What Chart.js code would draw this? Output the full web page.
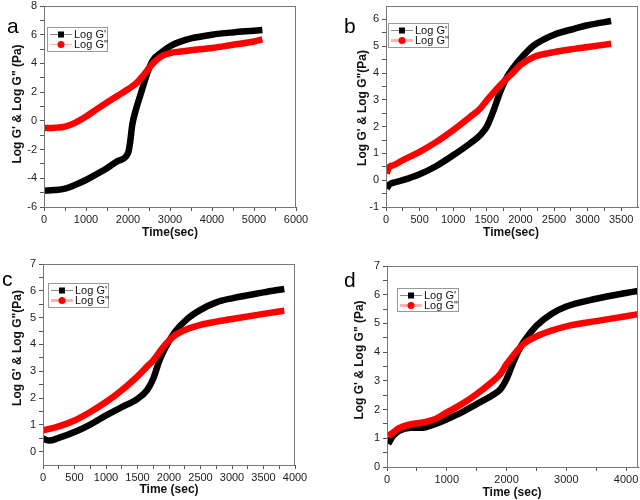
<!DOCTYPE html>
<html>
<head>
<meta charset="utf-8">
<script src="https://cdn.jsdelivr.net/npm/chart.js@4.4.0/dist/chart.umd.min.js"></script>
<style>
  body { margin: 0; background: #fff; }
  #wrap { position: relative; width: 640px; height: 500px; }
  canvas { position: absolute; }
</style>
</head>
<body>
<div id="wrap">
  <canvas id="chartA" width="320" height="250" style="left:0;top:0"></canvas>
  <canvas id="chartB" width="320" height="250" style="left:320px;top:0"></canvas>
  <canvas id="chartC" width="320" height="250" style="left:0;top:250px"></canvas>
  <canvas id="chartD" width="320" height="250" style="left:320px;top:250px"></canvas>
</div>
<script>
/* panel a */
const timeA = [0, 250, 500, 750, 1000, 1250, 1500, 1750, 2000, 2050, 2100, 2200, 2300, 2400, 2500, 2600, 2800, 3000, 3250, 3500, 4000, 4500, 5000, 5200];
const gPrimeA = [-4.86, -4.82, -4.72, -4.45, -4.12, -3.72, -3.3, -2.8, -2.25, -1.5, -0.3, 0.9, 1.85, 2.8, 3.65, 4.25, 4.78, 5.2, 5.52, 5.74, 6.0, 6.16, 6.28, 6.33];
const gDoubleA = [-0.5, -0.48, -0.4, -0.12, 0.3, 0.8, 1.28, 1.74, 2.2, 2.3, 2.4, 2.63, 2.95, 3.3, 3.68, 4.02, 4.5, 4.72, 4.83, 4.92, 5.07, 5.3, 5.53, 5.67];
const xTicksA = [0, 1000, 2000, 3000, 4000, 5000, 6000];
const yTicksA = [-6, -4, -2, 0, 2, 4, 6, 8];

/* panel b */
const timeB = [10, 50, 100, 250, 500, 750, 1000, 1250, 1400, 1500, 1600, 1700, 1800, 1900, 2000, 2200, 2500, 2800, 3000, 3350];
const gPrimeB = [-0.31, -0.16, -0.1, 0.0, 0.22, 0.53, 0.93, 1.37, 1.68, 2.0, 2.6, 3.3, 3.85, 4.22, 4.53, 5.03, 5.43, 5.65, 5.78, 5.94];
const gDoubleB = [0.25, 0.5, 0.55, 0.75, 1.06, 1.43, 1.87, 2.36, 2.67, 2.98, 3.27, 3.54, 3.8, 4.04, 4.3, 4.6, 4.78, 4.9, 4.97, 5.09];
const xTicksB = [0, 500, 1000, 1500, 2000, 2500, 3000, 3500];
const yTicksB = [-1, 0, 1, 2, 3, 4, 5, 6];

/* panel c */
const timeC = [0, 100, 250, 500, 750, 1000, 1250, 1500, 1650, 1750, 1850, 1950, 2100, 2300, 2500, 2750, 3000, 3500, 3830];
const gPrimeC = [0.48, 0.41, 0.51, 0.73, 1.01, 1.35, 1.66, 1.97, 2.29, 2.72, 3.41, 3.91, 4.48, 4.97, 5.29, 5.57, 5.72, 5.94, 6.07];
const gDoubleC = [0.79, 0.85, 0.94, 1.16, 1.48, 1.85, 2.29, 2.81, 3.17, 3.4, 3.72, 4.02, 4.35, 4.58, 4.73, 4.85, 4.95, 5.14, 5.26];
const xTicksC = [0, 500, 1000, 1500, 2000, 2500, 3000, 3500, 4000];
const yTicksC = [0, 1, 2, 3, 4, 5, 6, 7];

/* panel d */
const timeD = [20, 100, 200, 400, 600, 800, 1000, 1250, 1500, 1750, 1900, 2000, 2100, 2200, 2300, 2500, 2750, 3000, 3500, 4000, 4200];
const gPrimeD = [0.81, 1.08, 1.26, 1.37, 1.37, 1.49, 1.66, 1.9, 2.19, 2.48, 2.71, 3.06, 3.58, 4.05, 4.4, 4.92, 5.33, 5.59, 5.86, 6.06, 6.13];
const gDoubleD = [1.08, 1.2, 1.35, 1.49, 1.55, 1.66, 1.9, 2.19, 2.54, 2.95, 3.25, 3.58, 3.85, 4.1, 4.31, 4.55, 4.75, 4.9, 5.08, 5.25, 5.32];
const xTicksD = [0, 1000, 2000, 3000, 4000];
const yTicksD = [0, 1, 2, 3, 4, 5, 6, 7];

const FONT = "'Liberation Sans', Arial, sans-serif";

// majors plus a minor tick half way between each pair
function withMinors(majors) {
  let out = [];
  majors.forEach((v, i) => {
    out.push(v);
    if (i < majors.length - 1) out.push((v + majors[i + 1]) / 2);
  });
  return out;
}

function toPoints(xs, ys) {
  return xs.map((x, i) => ({ x: x, y: ys[i] }));
}

// frame, legend box, panel letter and axis titles
const decorPlugin = {
  id: 'decor',
  afterDraw(chart, args, o) {
    const ctx = chart.ctx;
    const a = chart.chartArea;
    ctx.save();
    ctx.strokeStyle = '#777';
    ctx.lineWidth = 1;
    ctx.strokeRect(a.left + 0.5, a.top + 0.5, a.right - a.left - 1, a.bottom - a.top);

    // legend
    const L = o.legend;
    ctx.fillStyle = '#fff';
    ctx.fillRect(L.x, L.y, L.w, L.h);
    ctx.strokeStyle = '#999';
    ctx.strokeRect(L.x + 0.5, L.y + 0.5, L.w, L.h);
    const rows = [L.y + 7, L.y + 17];
    ctx.strokeStyle = '#888';
    ctx.lineWidth = 1;
    ctx.beginPath(); ctx.moveTo(L.x + 3, rows[0] + 0.5); ctx.lineTo(L.x + 25, rows[0] + 0.5); ctx.stroke();
    ctx.fillStyle = '#000';
    ctx.fillRect(L.x + 11, rows[0] - 2.5, 6, 6);
    ctx.strokeStyle = 'rgba(255,0,0,0.3)';
    ctx.lineWidth = o.redLegendWidth;
    ctx.beginPath(); ctx.moveTo(L.x + 3, rows[1] + 0.5); ctx.lineTo(L.x + 25, rows[1] + 0.5); ctx.stroke();
    ctx.fillStyle = '#f00';
    ctx.beginPath(); ctx.arc(L.x + 14, rows[1] + 0.5, 3.5, 0, Math.PI * 2); ctx.fill();
    ctx.fillStyle = '#111';
    ctx.font = '11px ' + FONT;
    ctx.textBaseline = 'middle';
    ctx.textAlign = 'left';
    ctx.fillText("Log G'", L.x + 27, rows[0] + 1);
    ctx.fillText('Log G"', L.x + 27, rows[1] + 1);

    // panel letter
    ctx.fillStyle = '#000';
    ctx.font = '21px ' + FONT;
    ctx.textBaseline = 'alphabetic';
    ctx.fillText(o.letter, o.letterX, o.letterY);

    // axis titles
    ctx.font = 'bold 12px ' + FONT;
    ctx.textAlign = 'center';
    ctx.textBaseline = 'middle';
    ctx.fillStyle = '#111';
    ctx.fillText(o.xTitle, o.xTitleX, o.xTitleY);
    ctx.translate(o.yTitleX, o.yTitleY);
    ctx.rotate(-Math.PI / 2);
    ctx.fillText(o.yTitle, 0, 0);
    ctx.restore();
  }
};

function makePanel(id, p) {
  const ctx = document.querySelector(id).getContext('2d');
  const xAll = withMinors(p.xTicks);
  const yAll = withMinors(p.yTicks);
  return new Chart(ctx, {
    type: 'line',
    data: {
      datasets: [{
        label: "Log G'",
        data: toPoints(p.time, p.gPrime),
        borderColor: '#000',
        borderWidth: 6.5,
        pointRadius: 0,
        cubicInterpolationMode: 'monotone',
        order: 2
      },
      {
        label: 'Log G"',
        data: toPoints(p.time, p.gDouble),
        borderColor: '#f00',
        borderWidth: 6.5,
        pointRadius: 0,
        cubicInterpolationMode: 'monotone',
        order: 1
      }]
    },
    options: {
      responsive: false,
      animation: false,
      layout: { padding: { left: 0, top: p.area.top, right: 320 - p.area.right, bottom: 0 } },
      plugins: {
        legend: { display: false },
        tooltip: { enabled: false },
        decor: p.decor
      },
      scales: {
        x: {
          type: 'linear',
          min: p.xMin, max: p.xMax,
          afterBuildTicks: (s) => { s.ticks = xAll.map(v => ({ value: v })); },
          afterFit: (s) => { s.height = 250 - p.area.bottom; s.paddingLeft = 0; s.paddingRight = 0; },
          grid: { drawOnChartArea: false, tickLength: 4, tickColor: '#555' },
          border: { color: '#555' },
          ticks: {
            autoSkip: false, maxRotation: 0, padding: 2, color: '#222',
            font: { family: FONT, size: 11 },
            callback: (v) => p.xTicks.includes(v) ? String(v) : ''
          }
        },
        y: {
          type: 'linear',
          min: p.yMin, max: p.yMax,
          afterBuildTicks: (s) => { s.ticks = yAll.map(v => ({ value: v })); },
          afterFit: (s) => { s.width = p.area.left; s.paddingTop = 0; s.paddingBottom = 0; },
          grid: { drawOnChartArea: false, tickLength: 4, tickColor: '#555' },
          border: { color: '#555' },
          ticks: {
            autoSkip: false, padding: 3, color: '#222',
            font: { family: FONT, size: 11 },
            callback: (v) => p.yTicks.includes(v) ? String(v) : ''
          }
        }
      }
    },
    plugins: [decorPlugin]
  });
}

makePanel('#chartA', {
  time: timeA, gPrime: gPrimeA, gDouble: gDoubleA, xTicks: xTicksA, yTicks: yTicksA,
  xMin: 0, xMax: 6000, yMin: -6, yMax: 8,
  area: { left: 44, right: 296, top: 6, bottom: 207 },
  decor: {
    legend: { x: 47, y: 27, w: 60, h: 24 }, redLegendWidth: 1,
    letter: 'a', letterX: 7, letterY: 33,
    xTitle: 'Time(sec)', xTitleX: 170, xTitleY: 233,
    yTitle: 'Log G\' & Log G" (Pa)', yTitleX: 18, yTitleY: 104
  }
});

makePanel('#chartB', {
  time: timeB, gPrime: gPrimeB, gDouble: gDoubleB, xTicks: xTicksB, yTicks: yTicksB,
  xMin: 0, xMax: 3750, yMin: -1, yMax: 6.5,
  area: { left: 66, right: 318, top: 6, bottom: 207 },
  decor: {
    legend: { x: 68, y: 23, w: 60, h: 24 }, redLegendWidth: 3,
    letter: 'b', letterX: 24, letterY: 33,
    xTitle: 'Time(sec)', xTitleX: 191, xTitleY: 233,
    yTitle: 'Log G\' & Log G"(Pa)', yTitleX: 43, yTitleY: 108
  }
});

makePanel('#chartC', {
  time: timeC, gPrime: gPrimeC, gDouble: gDoubleC, xTicks: xTicksC, yTicks: yTicksC,
  xMin: 0, xMax: 4000, yMin: -0.5, yMax: 7,
  area: { left: 43, right: 295, top: 14, bottom: 215 },
  decor: {
    legend: { x: 48, y: 33, w: 60, h: 24 }, redLegendWidth: 3,
    letter: 'c', letterX: 2, letterY: 36,
    xTitle: 'Time (sec)', xTitleX: 169, xTitleY: 240,
    yTitle: 'Log G\' & Log G"(Pa)', yTitleX: 18, yTitleY: 98
  }
});

makePanel('#chartD', {
  time: timeD, gPrime: gPrimeD, gDouble: gDoubleD, xTicks: xTicksD, yTicks: yTicksD,
  xMin: 0, xMax: 4200, yMin: 0, yMax: 7,
  area: { left: 67, right: 318, top: 16, bottom: 217 },
  decor: {
    legend: { x: 77, y: 38, w: 61, h: 23 }, redLegendWidth: 3,
    letter: 'd', letterX: 24, letterY: 37,
    xTitle: 'Time (sec)', xTitleX: 192, xTitleY: 243,
    yTitle: 'Log G\' & Log G" (Pa)', yTitleX: 40, yTitleY: 110
  }
});
</script>
</body>
</html>
